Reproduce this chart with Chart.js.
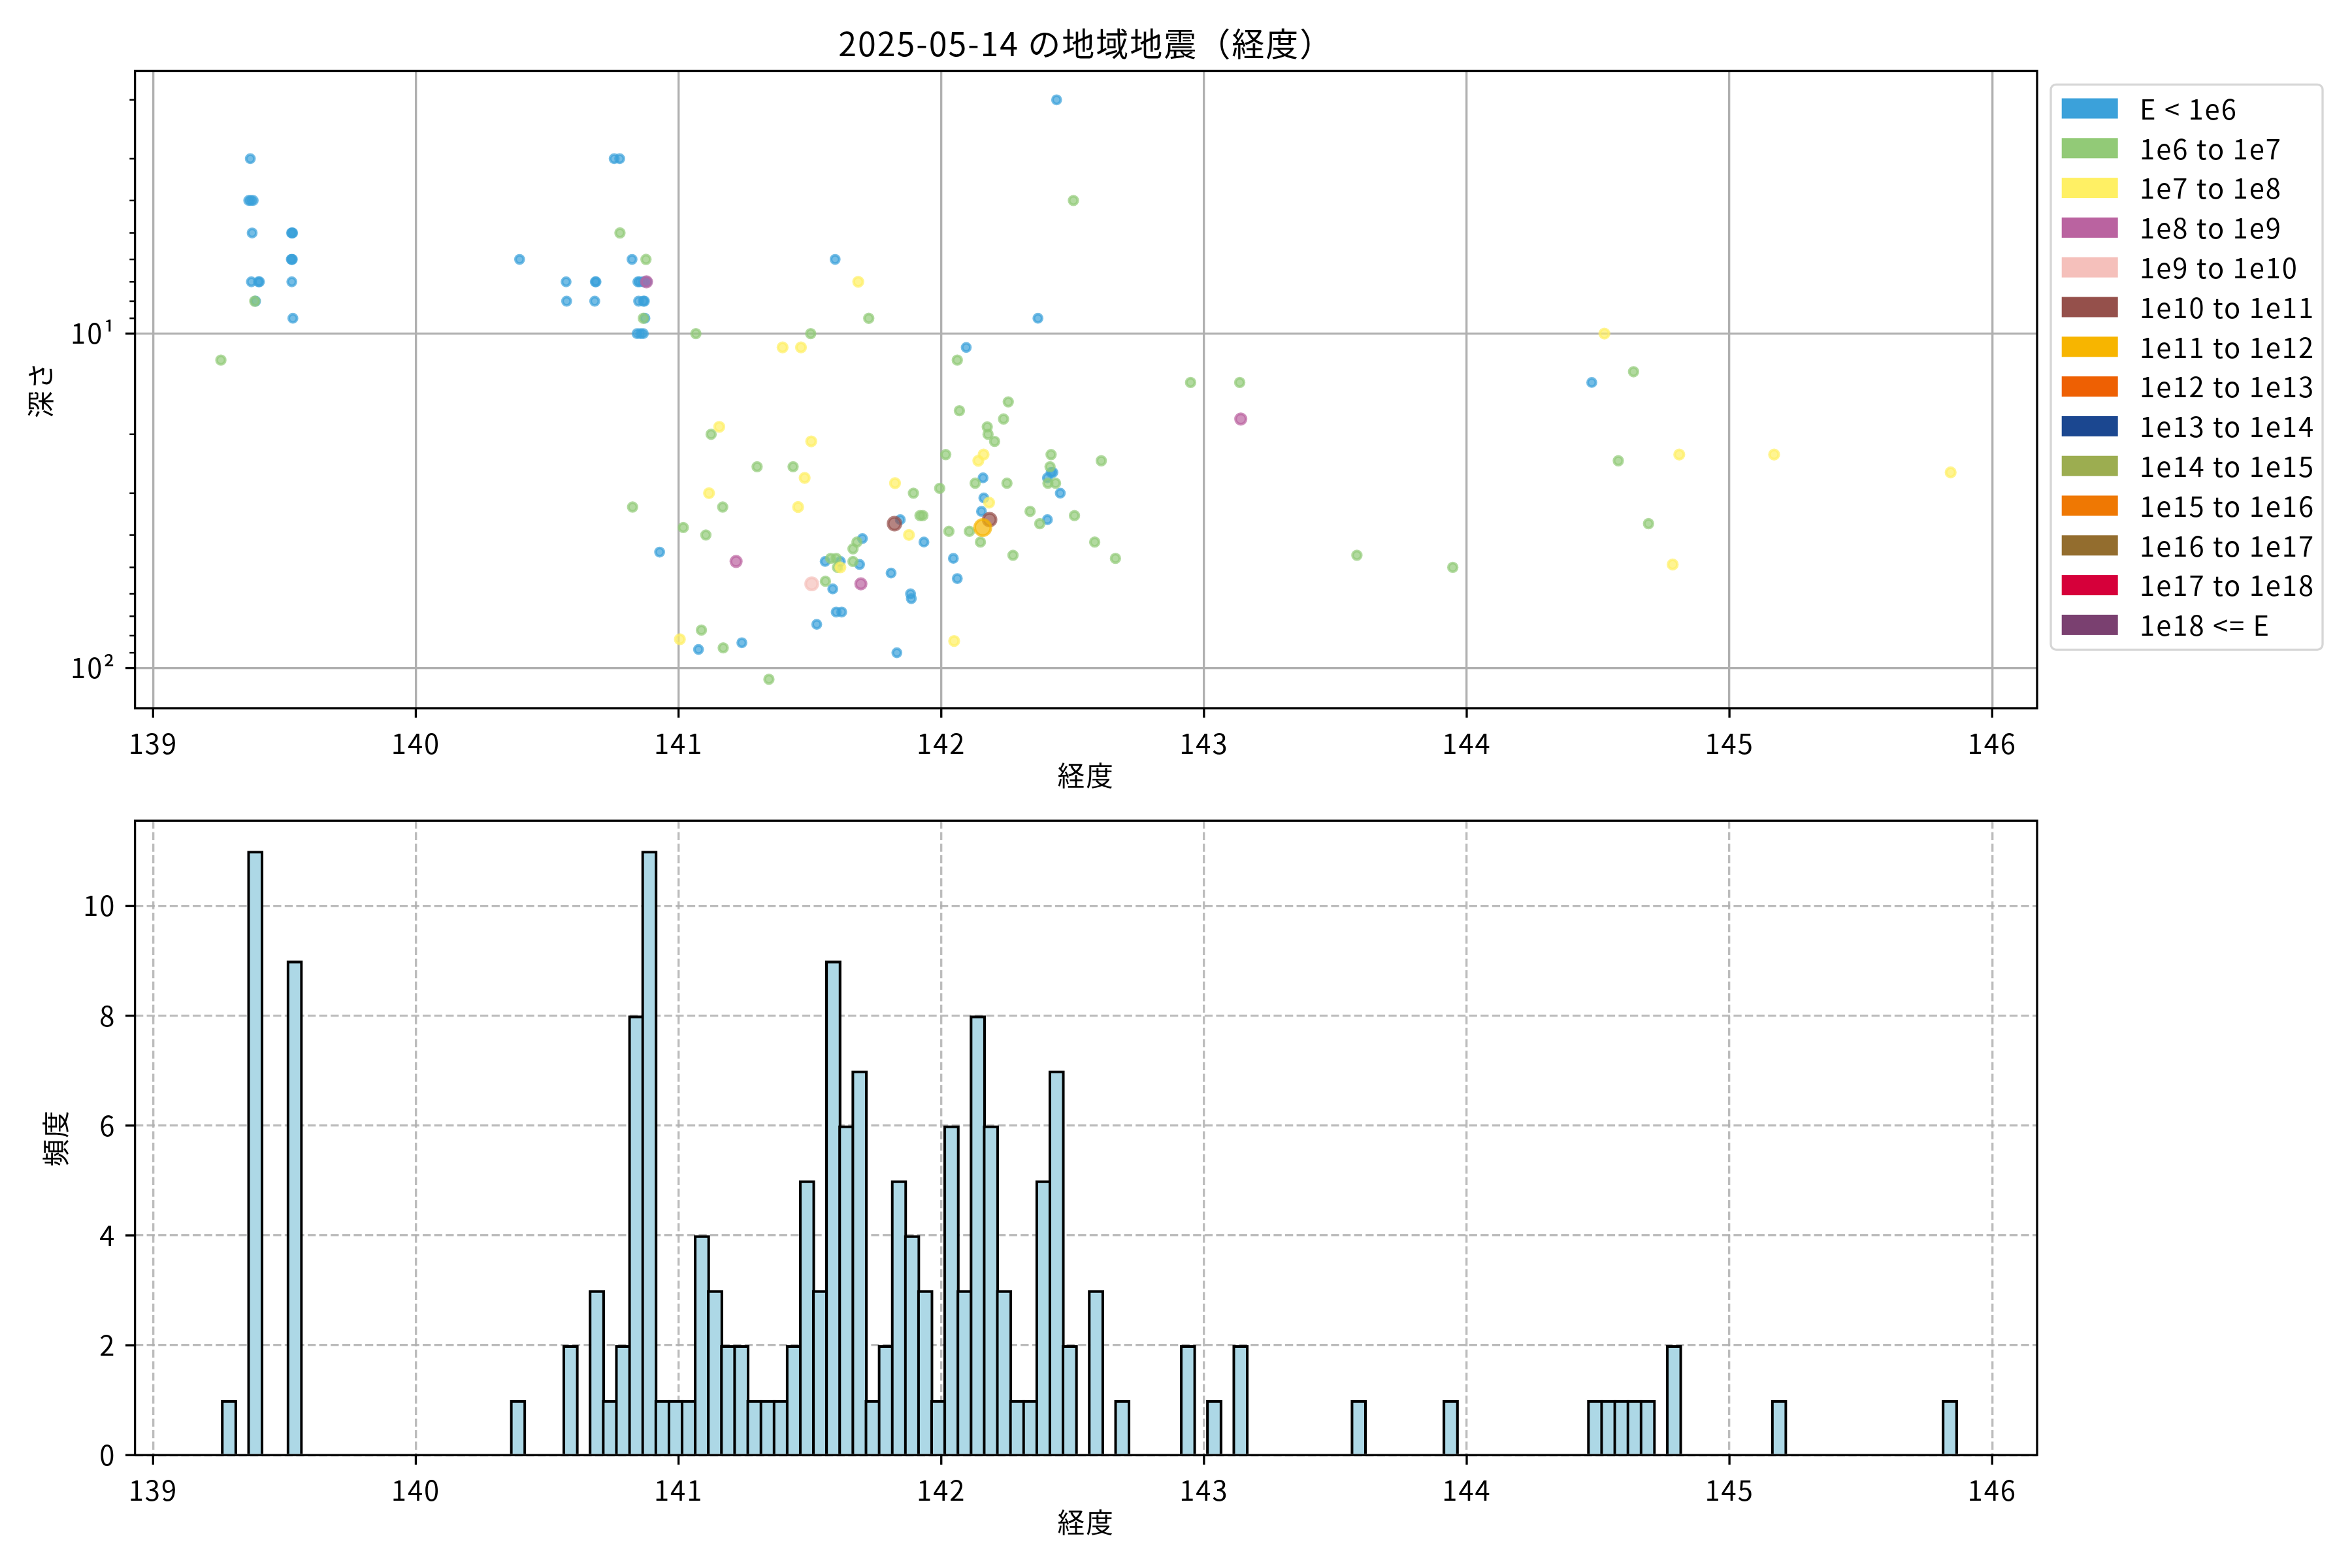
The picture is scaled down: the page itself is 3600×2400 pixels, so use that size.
<!DOCTYPE html>
<html lang="ja">
<head>
<meta charset="utf-8">
<title>2025-05-14 の地域地震（経度）</title>
<script src="https://cdn.jsdelivr.net/npm/chart.js@4.4.1/dist/chart.umd.min.js"></script>
<style>
  html, body { margin: 0; padding: 0; background: #fff; }
  #wrap { position: relative; width: 3600px; height: 2400px; background: #fff; }
  #scatterBox { position: absolute; left: 0; top: 0; width: 3600px; height: 1220px; }
  #histBox { position: absolute; left: 0; top: 1201.8px; width: 3600px; height: 1161.2px; }
</style>
</head>
<body>
<div id="wrap">
  <div id="scatterBox"><canvas id="scatterChart"></canvas></div>
  <div id="histBox"><canvas id="histChart"></canvas></div>
</div>
<script>
// ---- data ----
const energyLabels = ['E < 1e6', '1e6 to 1e7', '1e7 to 1e8', '1e8 to 1e9', '1e9 to 1e10',
    '1e10 to 1e11', '1e11 to 1e12', '1e12 to 1e13', '1e13 to 1e14', '1e14 to 1e15',
    '1e15 to 1e16', '1e16 to 1e17', '1e17 to 1e18', '1e18 <= E'];

// E < 1e6
const lonLt1e6 = [139.370, 139.364, 139.372, 139.381, 139.377, 139.374, 139.401, 139.405, 139.390,
    139.527, 139.529, 139.531, 139.526, 139.528, 139.530, 139.528, 139.532,
    140.395, 140.572, 140.574, 140.683, 140.686, 140.681, 140.755, 140.776,
    140.823, 140.845, 140.852, 140.842, 140.855, 140.848,
    140.866, 140.872, 140.880, 140.866, 140.870, 140.872, 140.866, 140.928,
    141.076, 141.241, 141.526, 141.558, 141.596, 141.587, 141.600, 141.616, 141.621, 141.700,
    141.689, 141.809, 141.844, 141.831, 141.883, 141.886, 141.934, 142.046, 142.061, 142.095,
    142.159, 142.162, 142.153, 142.368, 142.404, 142.404, 142.418, 142.425, 142.439, 142.453,
    144.476];
const depthLt1e6 = [3, 4, 4, 4, 5, 7, 7, 7, 8,
    5, 5, 5, 6, 6, 6, 7, 9,
    6, 7, 8, 7, 7, 8, 3, 3,
    6, 7, 7, 10, 10, 8,
    7, 7, 7, 8, 8, 9, 10, 45,
    88, 84, 74, 48, 6, 58, 68, 48, 68, 41,
    49, 52, 36, 90, 60, 62, 42, 47, 54, 11,
    27, 31, 34, 9, 36, 27, 26, 26, 2, 30,
    14];

// 1e6 to 1e7
const lon1e6 = [139.258, 139.387, 140.777, 140.825, 140.876, 140.866,
    141.018, 141.066, 141.087, 141.104, 141.124, 141.168, 141.170, 141.299, 141.344, 141.436,
    141.503, 141.559, 141.579, 141.600, 141.605, 141.679, 141.664, 141.664, 141.724, 141.894,
    141.919, 141.930, 141.994, 142.017, 142.029, 142.061, 142.069, 142.107, 142.129, 142.149,
    142.175, 142.178, 142.203, 142.237, 142.255, 142.250, 142.273, 142.338, 142.375, 142.406,
    142.418, 142.414, 142.435, 142.503, 142.507, 142.609, 142.584, 142.663,
    142.949, 143.136, 143.582, 143.947, 144.577, 144.635, 144.692];
const depth1e6 = [12, 8, 5, 33, 6, 9,
    38, 10, 77, 40, 20, 33, 87, 25, 108, 25,
    10, 55, 47, 47, 50, 42, 44, 48, 9, 30,
    35, 35, 29, 23, 39, 12, 17, 39, 28, 42,
    19, 20, 21, 18, 16, 28, 46, 34, 37, 28,
    23, 25, 28, 4, 35, 24, 42, 47,
    14, 14, 46, 50, 24, 13, 37];

// 1e7 to 1e8
const lon1e7 = [141.005, 141.116, 141.155, 141.396, 141.455, 141.466, 141.480, 141.505, 141.616,
    141.684, 141.824, 141.877, 142.049, 142.141, 142.161, 142.182,
    144.524, 144.784, 144.809, 145.170, 145.842];
const depth1e7 = [82, 30, 19, 11, 33, 11, 27, 21, 50,
    7, 28, 40, 83, 24, 23, 32,
    10, 49, 23, 23, 26];

// 1e8 to 1e9
const lon1e8 = [140.878, 141.219, 141.694, 143.140];
const depth1e8 = [7, 48, 56, 18];

// 1e9 to 1e10
const lon1e9 = [141.507];
const depth1e9 = [56];

// 1e10 to 1e11
const lon1e10 = [141.822, 142.184];
const depth1e10 = [37, 36];

// 1e11 to 1e12
const lon1e11 = [142.158];
const depth1e11 = [38];

// classes above 1e12 have no events on this day
const classLons = [lonLt1e6, lon1e6, lon1e7, lon1e8, lon1e9, lon1e10, lon1e11];
const classDepths = [depthLt1e6, depth1e6, depth1e7, depth1e8, depth1e9, depth1e10, depth1e11];

// histogram: counts per 0.05 degree bin, first bin starts at 139.264
const histStart = 139.264;
const histBinWidth = 0.05;
const histCounts = [
    1, 0, 11, 0, 0, 9, 0, 0, 0, 0, 0, 0, 0, 0, 0, 0, 0, 0, 0, 0,
    0, 0, 1, 0, 0, 0, 2, 0, 3, 1, 2, 8, 11, 1, 1, 1, 4, 3, 2, 2,
    1, 1, 1, 2, 5, 3, 9, 6, 7, 1, 2, 5, 4, 3, 1, 6, 3, 8, 6, 3,
    1, 1, 5, 7, 2, 0, 3, 0, 1, 0, 0, 0, 0, 2, 0, 1, 0, 2, 0, 0,
    0, 0, 0, 0, 0, 0, 1, 0, 0, 0, 0, 0, 0, 1, 0, 0, 0, 0, 0, 0,
    0, 0, 0, 0, 1, 1, 1, 1, 1, 0, 2, 0, 0, 0, 0, 0, 0, 0, 1, 0,
    0, 0, 0, 0, 0, 0, 0, 0, 0, 0, 0, 1];

// tick labels
const lonTicks = [139, 140, 141, 142, 143, 144, 145, 146];
const depthTicks = [2, 3, 4, 5, 6, 7, 8, 9, 10, 20, 30, 40, 50, 60, 70, 80, 90, 100];
const depthMajor = { 10: '10¹', 100: '10²' };
const countTicks = [0, 2, 4, 6, 8, 10];

// ---- styles ----
const FONT = "'Noto Sans CJK JP', 'Noto Sans', sans-serif";
const classColors = ['#3ba1da', '#92ca77', '#fff064', '#ba63a0', '#f5c0bb', '#95504b', '#f7b500',
    '#ee6003', '#1b4790', '#9cad50', '#ef7803', '#936d2e', '#d6003a', '#7a4070'];
const classRadius = [6.3, 6.6, 7.1, 8.0, 9.3, 9.8, 12.4];
const LW = 3.33;
const SPACING = '2px';

Chart.defaults.font.family = FONT;
Chart.defaults.color = '#000';

function rgba(hex, a) {
    const n = parseInt(hex.slice(1), 16);
    return `rgba(${n >> 16},${(n >> 8) & 255},${n & 255},${a})`;
}

// the figure's font runs a little wider than Noto, open it up a bit
const wideText = {
    id: 'wideText',
    beforeLayout(chart) { chart.ctx.letterSpacing = SPACING; },
    beforeDraw(chart) { chart.ctx.letterSpacing = SPACING; }
};

// spines + matplotlib-like outward tick marks
const mplFrame = {
    id: 'mplFrame',
    afterDraw(chart) {
        const { ctx, chartArea: a, scales } = chart;
        ctx.save();
        ctx.strokeStyle = '#000';
        const x = scales.x;
        x.ticks.forEach(t => {
            const px = x.getPixelForValue(t.value);
            ctx.lineWidth = LW;
            ctx.beginPath(); ctx.moveTo(px, a.bottom); ctx.lineTo(px, a.bottom + 14.6); ctx.stroke();
        });
        const y = scales.y;
        y.ticks.forEach(t => {
            const py = y.getPixelForValue(t.value);
            const major = t.label !== '';
            ctx.lineWidth = major ? LW : 2.5;
            ctx.beginPath(); ctx.moveTo(a.left, py); ctx.lineTo(a.left - (major ? 14.6 : 8.3), py); ctx.stroke();
        });
        ctx.lineWidth = LW;
        ctx.strokeRect(a.left, a.top, a.right - a.left, a.bottom - a.top);
        ctx.restore();
    }
};

// legend with colour patches, placed right of the axes
const patchLegend = {
    id: 'patchLegend',
    afterDraw(chart) {
        const { ctx, chartArea: a } = chart;
        const left = a.right + 21, top = a.top + 20.8;
        const w = 416, h = 865, r = 8;
        ctx.save();
        ctx.beginPath();
        ctx.roundRect(left, top, w, h, r);
        ctx.fillStyle = 'rgba(255,255,255,0.8)';
        ctx.fill();
        ctx.lineWidth = LW;
        ctx.strokeStyle = '#d6d6d6';
        ctx.stroke();
        ctx.font = `41.7px ${FONT}`;
        ctx.letterSpacing = SPACING;
        ctx.textBaseline = 'middle';
        ctx.textAlign = 'left';
        energyLabels.forEach((label, i) => {
            const cy = top + 16.7 + 20 + i * 60.8;
            ctx.fillStyle = classColors[i];
            ctx.fillRect(left + 16.7, cy - 15.5, 86, 31);
            ctx.fillStyle = '#000';
            ctx.fillText(label, left + 16.7 + 86 + 33.4, cy + 1);
        });
        ctx.restore();
    }
};

const tickFont = { family: FONT, size: 41.7 };
const X_MIN = 138.931, X_MAX = 146.171;

// ---- top: scatter of depth vs longitude ----
const scatterSets = energyLabels.map((label, i) => {
    const lons = classLons[i] || [];
    const deps = classDepths[i] || [];
    return {
        label,
        data: lons.map((lon, j) => ({ x: lon, y: deps[j] })),
        backgroundColor: rgba(classColors[i], 0.7),
        borderColor: rgba(classColors[i], 0.7),
        borderWidth: 4.17,
        pointRadius: classRadius[i] || 6,
        pointHoverRadius: classRadius[i] || 6,
        order: 100 - i
    };
});

new Chart(document.getElementById('scatterChart'), {
    type: 'scatter',
    data: { datasets: scatterSets },
    options: {
        responsive: true,
        maintainAspectRatio: false,
        devicePixelRatio: 1,
        animation: false,
        events: [],
        layout: { padding: { left: 0, right: 482, top: 0, bottom: 0 } },
        plugins: {
            legend: { display: false },
            tooltip: { enabled: false },
            title: {
                display: true,
                text: '2025-05-14 の地域地震（経度）',
                fullSize: false,
                font: { family: FONT, size: 50, weight: 'normal' },
                color: '#000',
                padding: { top: 36.6, bottom: 11.9 }
            }
        },
        scales: {
            x: {
                type: 'linear', min: X_MIN, max: X_MAX,
                afterBuildTicks: s => { s.ticks = lonTicks.map(v => ({ value: v })); },
                afterFit: s => { s.height = 136; },
                ticks: { font: tickFont, color: '#000', padding: 29.2, autoSkip: false, maxRotation: 0,
                    callback: v => String(v) },
                grid: { color: '#b0b0b0', lineWidth: LW, drawTicks: false },
                border: { display: false },
                title: { display: true, text: '経度', font: tickFont, color: '#000', padding: { top: 0, bottom: 8 } }
            },
            y: {
                type: 'logarithmic', reverse: true, min: 1.6387, max: 131.84,
                afterBuildTicks: s => { s.ticks = depthTicks.map(v => ({ value: v })); },
                afterFit: s => { s.width = 206.6; },
                ticks: { font: tickFont, color: '#000', padding: 29.2, autoSkip: false,
                    callback: v => depthMajor[v] || '' },
                grid: { color: c => (c.tick && depthMajor[c.tick.value]) ? '#b0b0b0' : 'rgba(0,0,0,0)',
                    lineWidth: LW, drawTicks: false },
                border: { display: false },
                title: { display: true, text: '深さ', font: tickFont, color: '#000', padding: { top: 37, bottom: 0 } }
            }
        }
    },
    plugins: [wideText, mplFrame, patchLegend]
});

// ---- bottom: histogram of longitude ----
const histData = histCounts.map((c, i) => ({ x: histStart + (i + 0.5) * histBinWidth, y: c }));

new Chart(document.getElementById('histChart'), {
    type: 'bar',
    data: {
        datasets: [{
            data: histData,
            backgroundColor: '#add8e6',
            borderColor: '#000',
            borderWidth: 4.17,
            borderSkipped: 'start',
            barThickness: 24.27
        }]
    },
    options: {
        responsive: true,
        maintainAspectRatio: false,
        devicePixelRatio: 1,
        animation: false,
        events: [],
        layout: { padding: { left: 0, right: 482, top: 0, bottom: 0 } },
        plugins: { legend: { display: false }, tooltip: { enabled: false } },
        scales: {
            x: {
                type: 'linear', min: X_MIN, max: X_MAX, offset: false,
                afterBuildTicks: s => { s.ticks = lonTicks.map(v => ({ value: v })); },
                afterFit: s => { s.height = 136; },
                ticks: { font: tickFont, color: '#000', padding: 29.2, autoSkip: false, maxRotation: 0,
                    callback: v => String(v) },
                grid: { color: 'rgba(176,176,176,0.85)', lineWidth: LW, drawTicks: false, offset: false },
                border: { display: false, dash: [12.3, 5.3] },
                title: { display: true, text: '経度', font: tickFont, color: '#000', padding: { top: 0, bottom: 8 } }
            },
            y: {
                type: 'linear', min: 0, max: 11.55,
                afterBuildTicks: s => { s.ticks = countTicks.map(v => ({ value: v })); },
                afterFit: s => { s.width = 206.6; },
                ticks: { font: tickFont, color: '#000', padding: 29.2, autoSkip: false,
                    callback: v => String(v) },
                grid: { color: 'rgba(176,176,176,0.85)', lineWidth: LW, drawTicks: false },
                border: { display: false, dash: [12.3, 5.3] },
                title: { display: true, text: '頻度', font: tickFont, color: '#000', padding: { top: 60, bottom: 0 } }
            }
        }
    },
    plugins: [wideText, mplFrame]
});
</script>
</body>
</html>
